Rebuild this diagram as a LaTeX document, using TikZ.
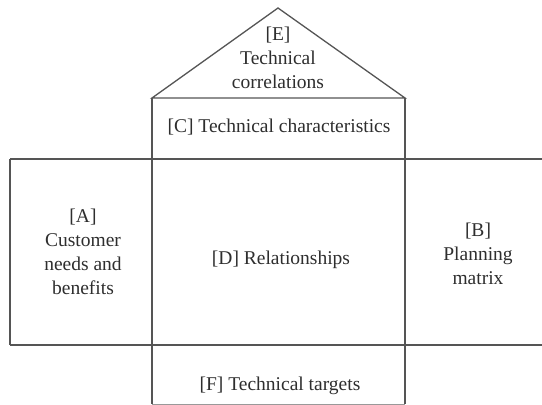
\documentclass[tikz,border=0pt]{standalone}
\usepackage{fontspec}
\setmainfont{Liberation Serif}
\definecolor{linecol}{HTML}{555555}
\definecolor{textcol}{HTML}{2E2E2E}
\begin{document}
\begin{tikzpicture}[x=1pt,y=-1pt,
  frame/.style={draw=linecol,line width=1.3pt},
  lbl/.style={text=textcol,align=center,font=\fontsize{19.5}{24}\selectfont,inner sep=0pt}]
\useasboundingbox (0,0) rectangle (542,405);
% key coordinates
\coordinate (apex) at (278,8);
\coordinate (rl) at (152,98);
\coordinate (rr) at (405,98);
\coordinate (ml) at (152,159);
\coordinate (mr) at (405,159);
\coordinate (bl) at (152,345);
\coordinate (br) at (405,345);
\coordinate (fl) at (152,404);
\coordinate (fr) at (405,404);
\coordinate (al) at (10,159);
\coordinate (abl) at (10,345);
\coordinate (re) at (542,159);
\coordinate (rbe) at (542,345);
% roof
\draw[frame,line join=miter] (rl) -- (apex) -- (rr) -- cycle;
% C box and columns
\draw[frame] (rl) -- (fl);
\draw[frame] (rr) -- (fr);
% horizontal lines
\draw[frame] (al) -- (re);
\draw[frame] (abl) -- (rbe);
\draw[frame] (al) -- (abl);
\draw[draw=linecol!60,line width=1pt] (fl) -- (fr);
% texts
\node[lbl] (E) at (278,58) {[E]\\Technical\\correlations};
\node[lbl] (C) at (279,127) {[C] Technical characteristics};
\node[lbl] (A) at (83,252) {[A]\\Customer\\needs and\\benefits};
\node[lbl] (D) at (281,260) {[D] Relationships};
\node[lbl] (B) at (478,254) {[B]\\Planning\\matrix};
\node[lbl] (F) at (280,386) {[F] Technical targets};
\end{tikzpicture}
\end{document}
